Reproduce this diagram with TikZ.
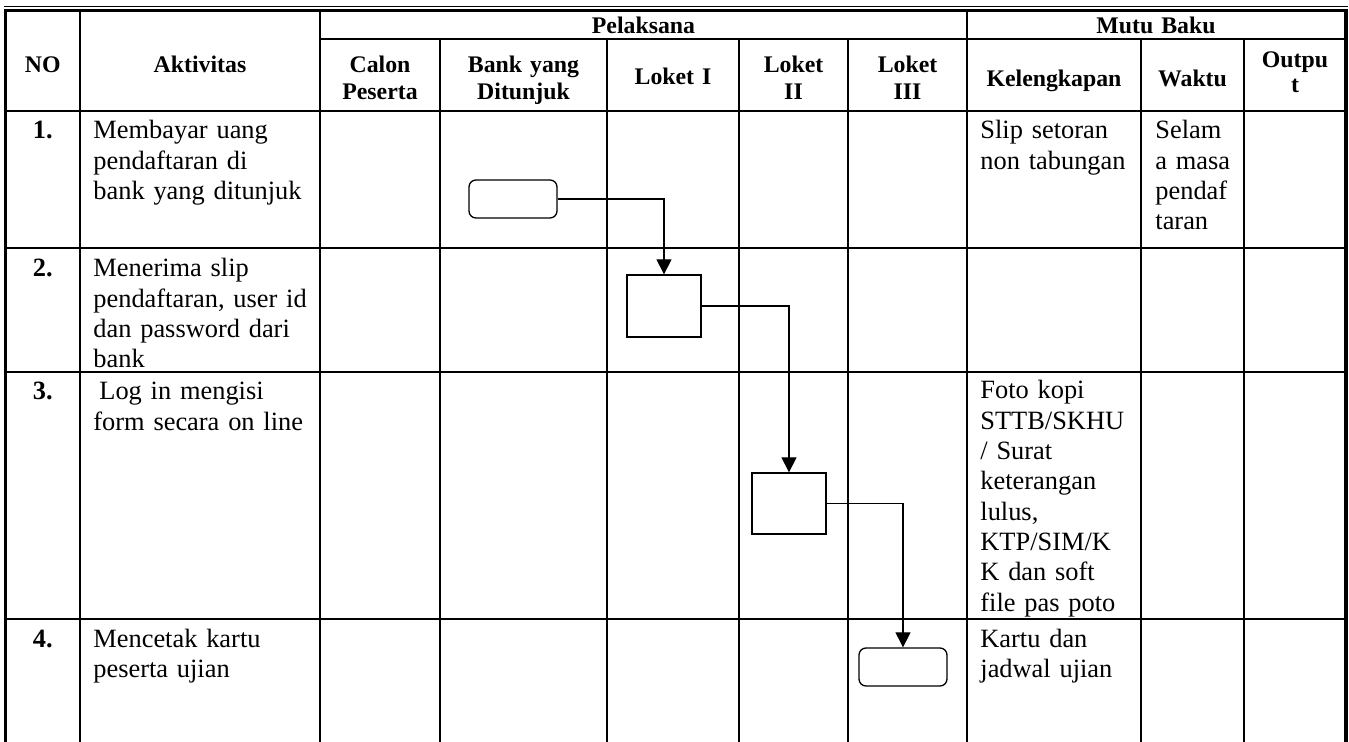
\documentclass[tikz,border=0pt]{standalone}
\usepackage{fontspec}
\setmainfont{Liberation Serif}
\usetikzlibrary{arrows.meta}
\begin{document}
\begin{tikzpicture}[x=0.5pt,y=-0.5pt,
  grid/.style={line width=1pt},
  hdr/.style={font=\fontsize{11.9pt}{13.5pt}\selectfont\bfseries, inner sep=0pt, align=center, anchor=base},
  body/.style={font=\fontsize{13.2pt}{15.15pt}\selectfont, inner sep=0pt, align=left, anchor=base west},
  num/.style={font=\fontsize{13.2pt}{15.15pt}\selectfont\bfseries, inner sep=0pt, anchor=base},
  proc/.style={draw, line width=0.65pt, inner sep=0pt, minimum width=37pt, minimum height=31pt},
  term/.style={draw, line width=0.65pt, inner sep=0pt, rounded corners=3.5pt, minimum width=44pt, minimum height=19pt},
  flow/.style={line width=0.6pt, -{Triangle[width=7.5pt,length=7.5pt]}},
]
\useasboundingbox (0,0) rectangle (1349,742);
% outer frame
\draw[line width=0.8pt] (3.5,6.5) -- (1347.5,6.5);
\draw[line width=1.2pt] (3.5,10.5) -- (1347.5,10.5);
\draw[line width=1.75pt] (5.5,10.5) -- (5.5,742);
\draw[line width=2pt] (1345.5,10.5) -- (1345.5,742);
% horizontal rules
\draw[grid] (320,39.3) -- (1345.5,39.3);
\foreach \yy in {111,247.7,371.7,618.7} \draw[grid] (5.5,\yy) -- (1345.5,\yy);
% vertical rules
\foreach \xx in {80,320,967} \draw[grid] (\xx,10.5) -- (\xx,742);
\foreach \xx in {440,606.7,739.3,847.7,1141,1244} \draw[grid] (\xx,39.3) -- (\xx,742);
% header texts
\node[hdr, text width=30pt] (hno) at (42.75,73) {NO};
\node[hdr, text width=100pt] (hakt) at (200,73) {Aktivitas};
\node[hdr, text width=200pt] (hpel) at (643.5,34) {Pelaksana};
\node[hdr, text width=150pt] (hmutu) at (1156,34) {Mutu Baku};
\node[hdr, text width=55pt] (hcalon) at (380,73) {Calon\\Peserta};
\node[hdr, text width=80pt] (hbank) at (523.5,73) {Bank yang\\Ditunjuk};
\node[hdr, text width=60pt] (hl1) at (673,85) {Loket I};
\node[hdr, text width=50pt] (hl2) at (793.5,73) {Loket\\II};
\node[hdr, text width=55pt] (hl3) at (907.5,73) {Loket\\III};
\node[hdr, text width=85pt] (hkel) at (1054,87) {Kelengkapan};
\node[hdr, text width=48pt] (hwak) at (1192.5,87) {Waktu};
\node[hdr, text width=48pt, font=\fontsize{11.9pt}{12.5pt}\selectfont\bfseries] (hout) at (1295,68) {Outpu\\t};
% numbers
\node[num] (n1) at (42.75,139) {1.};
\node[num] (n2) at (42.75,277) {2.};
\node[num] (n3) at (42.75,400) {3.};
\node[num] (n4) at (42.75,647) {4.};
% activities
\node[body, text width=115pt] (a1) at (93,139) {Membayar uang\\pendaftaran di\\bank yang ditunjuk};
\node[body, text width=115pt] (a2) at (93,277) {Menerima slip\\pendaftaran, user id\\dan password dari\\bank};
\node[body, text width=115pt] (a3) at (93,400) {\hspace*{3pt}Log in mengisi\\form secara on line};
\node[body, text width=115pt] (a4) at (93,647) {Mencetak kartu\\peserta ujian};
% kelengkapan
\node[body, text width=82pt] (k1) at (980,139) {Slip setoran\\non tabungan};
\node[body, text width=82pt] (k3) at (980,399) {Foto kopi\\STTB/SKHU\\/ Surat\\keterangan\\lulus,\\KTP/SIM/K\\K dan soft\\file pas poto};
\node[body, text width=82pt] (k4) at (980,647) {Kartu dan\\jadwal ujian};
% waktu
\node[body, text width=44pt] (w1) at (1155,139) {Selam\\a masa\\pendaf\\taran};
% flow shapes
\node[term] (s1) at (513,199) {};
\node[proc] (s2) at (664,306) {};
\node[proc, minimum height=30.5pt] (s3) at (789,503.5) {};
\node[term] (s4) at (903,667) {};
\draw[flow] (s1.east) -| (s2.north);
\draw[flow] (s2.east) -| (s3.north);
\draw[flow] (s3.east) -| (s4.north);
\end{tikzpicture}
\end{document}
